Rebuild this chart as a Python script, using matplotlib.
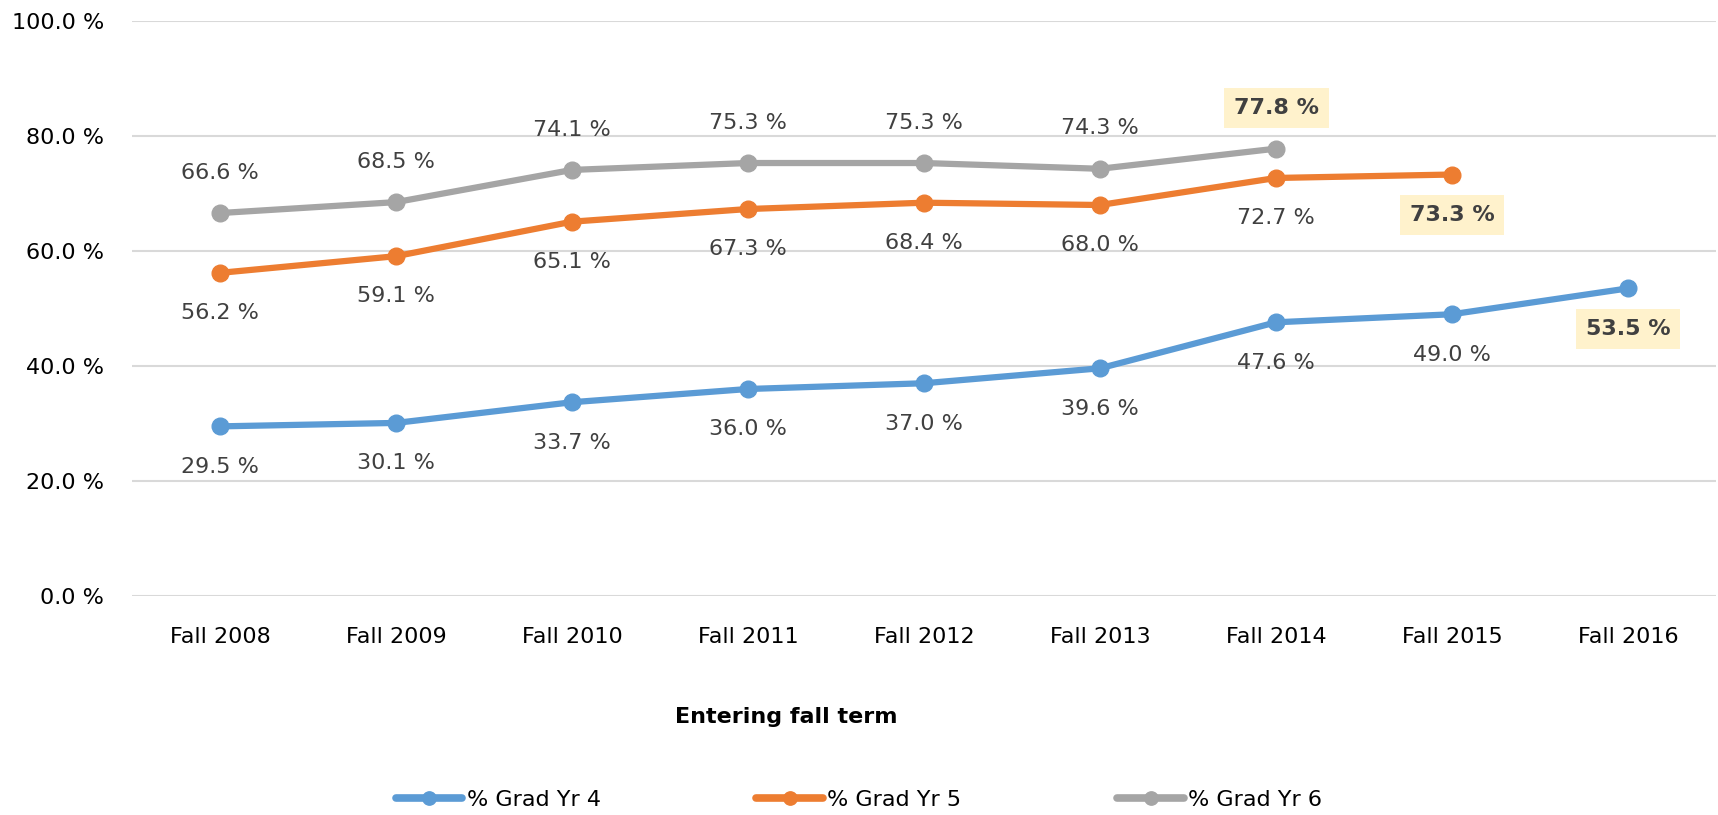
import matplotlib
matplotlib.use('Agg')
import matplotlib.pyplot as plt
import numpy as np

# data
terms = ['Fall 2008', 'Fall 2009', 'Fall 2010', 'Fall 2011', 'Fall 2012',
         'Fall 2013', 'Fall 2014', 'Fall 2015', 'Fall 2016']
grad_yr4 = [29.5, 30.1, 33.7, 36.0, 37.0, 39.6, 47.6, 49.0, 53.5]
grad_yr5 = [56.2, 59.1, 65.1, 67.3, 68.4, 68.0, 72.7, 73.3]
grad_yr6 = [66.6, 68.5, 74.1, 75.3, 75.3, 74.3, 77.8]
y_ticks = [0, 20, 40, 60, 80, 100]

plt.rcParams['font.family'] = 'DejaVu Sans'

fig = plt.figure(figsize=(17.18, 8.15), dpi=100)
axes = fig.add_axes([132/1718, 1-596/815, 1584/1718, 575/815])

series = [
    (grad_yr4, '% Grad Yr 4', '#5B9BD5', -29),
    (grad_yr5, '% Grad Yr 5', '#ED7D31', -29),
    (grad_yr6, '% Grad Yr 6', '#A5A5A5', 29),
]

for vals, name, col, off in series:
    x = np.arange(len(vals))
    axes.plot(x, vals, color=col, lw=4.5, marker='o', markersize=12,
              solid_capstyle='round', label=name, zorder=3)
    for i, v in enumerate(vals):
        last = (i == len(vals) - 1)
        if last:
            axes.annotate('%.1f %%' % v, (i, v), xytext=(0, off), textcoords='offset points',
                          ha='center', va='center', fontsize=16, color='#404040',
                          fontweight='bold',
                          bbox=dict(boxstyle='square,pad=0.45', fc='#FFF2CC', ec='none'))
        else:
            axes.annotate('%.1f %%' % v, (i, v), xytext=(0, off), textcoords='offset points',
                          ha='center', va='center', fontsize=16, color='#404040')

axes.set_xlim(-0.5, len(terms) - 0.5)
axes.set_ylim(0, 100)
axes.set_yticks(y_ticks)
axes.set_yticklabels(['%.1f %%' % t for t in y_ticks])
axes.set_xticks(np.arange(len(terms)))
axes.set_xticklabels(terms)
axes.tick_params(axis='y', length=0, pad=20, labelsize=16, labelcolor='#000000')
axes.tick_params(axis='x', length=0, pad=22, labelsize=16, labelcolor='#000000')
axes.grid(axis='y', color='#D9D9D9', lw=1.5, zorder=0)
axes.set_axisbelow(True)
for s in axes.spines.values():
    s.set_visible(False)

fig.text(786/1718, 1-717/815, 'Entering fall term', ha='center', va='center',
         fontsize=16, fontweight='bold')

leg = fig.legend(loc='center', bbox_to_anchor=(0.5, 1-800/815), ncol=3, frameon=False,
                 fontsize=16, handlelength=3.0, handletextpad=0.2, columnspacing=7.0,
                 markerscale=0.8)
for h in leg.get_lines():
    h.set_linewidth(5.5)

plt.savefig('out.png', dpi=100)
plt.close()
